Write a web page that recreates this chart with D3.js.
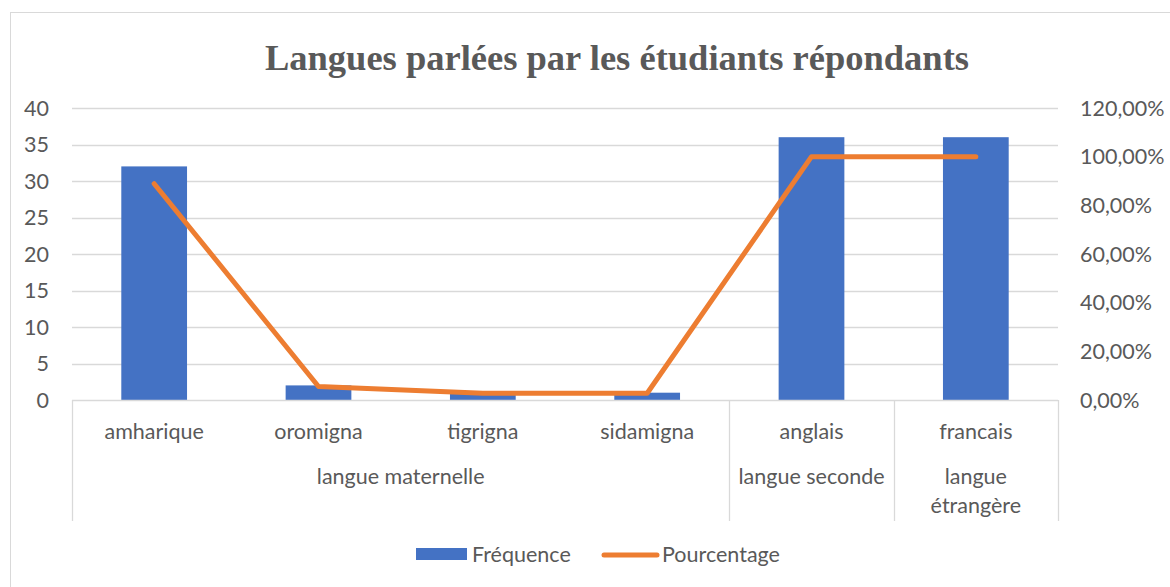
<!DOCTYPE html>
<html>
<head>
<meta charset="utf-8">
<script src="https://cdn.jsdelivr.net/npm/d3@7"></script>
<style>
  body { margin: 0; background: #fff; }
  text { font-family: Lato, "Open Sans", sans-serif; fill: #595959; }
</style>
</head>
<body>
<svg width="1170" height="587"></svg>
<script>
var categories = ["amharique", "oromigna", "tigrigna", "sidamigna", "anglais", "francais"];
var groups = [
  {name: ["langue maternelle"], from: 0, to: 3},
  {name: ["langue seconde"], from: 4, to: 4},
  {name: ["langue", "étrangère"], from: 5, to: 5}
];
var frequence = [32, 2, 1, 1, 36, 36];
var pourcentage = [0.8889, 0.0556, 0.0278, 0.0278, 1.0, 1.0];
var leftTicks = [0, 5, 10, 15, 20, 25, 30, 35, 40];
var rightTicks = [0, 0.2, 0.4, 0.6, 0.8, 1.0, 1.2];

var svg = d3.select("svg");
var plotLeft = 72, plotRight = 1058, plotTop = 108, plotBottom = 400;
var fs = "21.5px";

// chart border
svg.append("rect")
    .attr("x", 10.5).attr("y", 12.5)
    .attr("width", 1170).attr("height", 600)
    .attr("fill", "none").attr("stroke", "#d9d9d9");

var x = d3.scaleBand().domain(categories).range([plotLeft, plotRight]).paddingInner(0.6).paddingOuter(0.3);
var xStep = (plotRight - plotLeft) / categories.length;
var y = d3.scaleLinear().domain([0, 40]).range([plotBottom, plotTop]);
var y2 = d3.scaleLinear().domain([0, 1.2]).range([plotBottom, plotTop]);

// gridlines
svg.append("g").selectAll("line")
    .data(leftTicks.slice(1))
    .enter().append("line")
    .attr("x1", plotLeft).attr("x2", plotRight)
    .attr("y1", function (d) {return Math.round(y(d)) + 0.5;})
    .attr("y2", function (d) {return Math.round(y(d)) + 0.5;})
    .attr("stroke", "#d9d9d9").attr("stroke-width", 1.3);

// left axis labels
svg.append("g").selectAll("text")
    .data(leftTicks)
    .enter().append("text")
    .attr("x", 49).attr("y", function (d) {return y(d);})
    .attr("dy", "0.35em")
    .attr("text-anchor", "end")
    .style("font-size", fs)
    .text(function (d) {return d;});

// right axis labels
var fmt = function (d) {return (d * 100).toFixed(2).replace(".", ",") + "%";};
svg.append("g").selectAll("text")
    .data(rightTicks)
    .enter().append("text")
    .attr("x", 1080).attr("y", function (d) {return y2(d);})
    .attr("dy", "0.35em")
    .style("font-size", fs)
    .text(fmt);

// bars
svg.append("g").selectAll("rect")
    .data(frequence)
    .enter().append("rect")
    .attr("x", function (d, i) {return x(categories[i]);})
    .attr("width", x.bandwidth())
    .attr("y", function (d) {return y(d);})
    .attr("height", function (d) {return y(0) - y(d);})
    .attr("fill", "#4472c4");

// category axis
var axis = svg.append("g").attr("stroke", "#d9d9d9").attr("stroke-width", 1.3);
axis.append("line")
    .attr("x1", plotLeft).attr("x2", plotRight)
    .attr("y1", plotBottom + 0.5).attr("y2", plotBottom + 0.5);
var seps = [0].concat(groups.map(function (g) {return g.to + 1;}));
axis.selectAll(".sep")
    .data(seps)
    .enter().append("line")
    .attr("class", "sep")
    .attr("x1", function (d) {return Math.round(plotLeft + d * xStep) + 0.5;})
    .attr("x2", function (d) {return Math.round(plotLeft + d * xStep) + 0.5;})
    .attr("y1", plotBottom).attr("y2", 521);

svg.append("g").selectAll("text")
    .data(categories)
    .enter().append("text")
    .attr("x", function (d) {return x(d) + x.bandwidth() / 2;})
    .attr("y", 439)
    .attr("text-anchor", "middle")
    .style("font-size", fs)
    .text(function (d) {return d;});

var gl = svg.append("g").selectAll("text")
    .data(groups)
    .enter().append("text")
    .attr("text-anchor", "middle")
    .style("font-size", fs);
gl.selectAll("tspan")
    .data(function (g) {
        var cx = plotLeft + (g.from + g.to + 1) / 2 * xStep;
        return g.name.map(function (s, i) {return {s: s, cx: cx, i: i};});
    })
    .enter().append("tspan")
    .attr("x", function (d) {return d.cx;})
    .attr("y", function (d) {return 484 + d.i * 29;})
    .text(function (d) {return d.s;});

// line
var line = d3.line()
    .x(function (d, i) {return x(categories[i]) + x.bandwidth() / 2;})
    .y(function (d) {return y2(d);});
svg.append("path")
    .datum(pourcentage)
    .attr("d", line)
    .attr("fill", "none")
    .attr("stroke", "#ed7d31")
    .attr("stroke-width", 5)
    .attr("stroke-linecap", "round")
    .attr("stroke-linejoin", "round");

// title
svg.append("text")
    .attr("x", 617).attr("y", 70)
    .attr("text-anchor", "middle")
    .style("font-family", "'Liberation Serif', 'Times New Roman', serif")
    .style("font-weight", "bold")
    .style("font-size", "36.5px")
    .text("Langues parlées par les étudiants répondants");

// legend
var lg = svg.append("g");
lg.append("rect").attr("x", 416).attr("y", 548).attr("width", 51).attr("height", 12).attr("fill", "#4472c4");
lg.append("text").attr("x", 472).attr("y", 562).style("font-size", fs).text("Fréquence");
lg.append("line").attr("x1", 604).attr("x2", 657).attr("y1", 555).attr("y2", 555)
    .attr("stroke", "#ed7d31").attr("stroke-width", 5).attr("stroke-linecap", "round");
lg.append("text").attr("x", 662).attr("y", 562).style("font-size", fs).text("Pourcentage");
</script>
</body>
</html>
